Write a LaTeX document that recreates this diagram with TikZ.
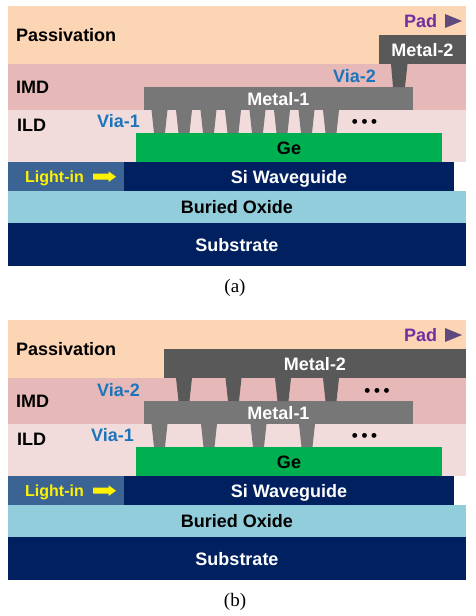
\documentclass[tikz,border=0pt]{standalone}
\usepackage{fontspec}
\setmainfont{Liberation Sans}
\newfontfamily\capfont{Liberation Serif}
\definecolor{passc}{HTML}{FCD5B5}
\definecolor{imdc}{HTML}{E6B9B8}
\definecolor{ildc}{HTML}{F2DCDB}
\definecolor{gec}{HTML}{00B050}
\definecolor{navyc}{HTML}{002060}
\definecolor{oxc}{HTML}{92CDDC}
\definecolor{mone}{HTML}{777777}
\definecolor{mtwo}{HTML}{595959}
\definecolor{lightc}{HTML}{3B6494}
\definecolor{viac}{HTML}{1C75BC}
\definecolor{padc}{HTML}{7030A0}
\definecolor{padarrow}{HTML}{604A7B}
\tikzset{
  x=1pt,y=-1pt,
  lay/.style={rectangle,anchor=north west,inner sep=0pt,outer sep=0pt,draw=none,
    font=\fontsize{18}{20}\bfseries,text height=13pt,text depth=0pt},
  lbl/.style={anchor=west,inner sep=0pt,font=\fontsize{18}{20}\bfseries,text height=13pt,text depth=0pt},
  vialbl/.style={lbl,text=viac},
  dotsrow/.style={inner sep=0pt,font=\fontsize{17}{18}\bfseries,text=black},
}
% #1 prefix, #2 width, #3 height, #4 colour, #5 x, #6 y, #7 text, #8 text colour
\newcommand\layer[8]{\node[lay,minimum width=#2pt,minimum height=#3pt,fill=#4,text=#8] (#1) at (#5,#6) {#7};}
% trapezoid via: #1 left x at the top, #2 top y, #3 colour
\newcommand\viashape[3]{\fill[#3] (#1,#2) -- (#1+16,#2) -- (#1+13.5,#2+23) -- (#1+2.5,#2+23) -- cycle;}
\newcommand\pstack[1]{%
  \layer{#1pass}{458}{58}{passc}{8}{6}{}{black}
  \layer{#1imd}{458}{46}{imdc}{8}{64}{}{black}
  \layer{#1ild}{458}{52}{ildc}{8}{110}{}{black}
  \layer{#1ge}{306}{29}{gec}{136}{133}{Ge}{black}
  \layer{#1light}{116}{29}{lightc}{8}{162}{}{white}
  \layer{#1si}{330}{29}{navyc}{124}{162}{Si Waveguide}{white}
  \layer{#1ox}{458}{32}{oxc}{8}{191}{Buried Oxide}{black}
  \layer{#1sub}{458}{43}{navyc}{8}{223}{Substrate}{white}
  \layer{#1mone}{269}{23}{mone}{144}{87}{Metal-1}{white}
  \node[lbl] (#1passl) at (16,35) {Passivation};
  \node[lbl] (#1imdl) at (16,87) {IMD};
  \node[lbl] (#1ildl) at (17,125) {ILD};
  \node[lbl,text=padc] (#1pad) at (404,21) {Pad};
  \fill[padarrow] (445,14) -- (462,21) -- (445,28) -- cycle;
  \node[lbl,text=yellow,font=\fontsize{16}{18}\bfseries] (#1lightl) at (25,176) {Light-in};
  \fill[yellow] (93,173.7) -- (108.5,173.7) -- (108.5,171.3) -- (116,176.7) -- (108.5,182.1) -- (108.5,179.7) -- (93,179.7) -- cycle;
}
\begin{document}
\begin{tikzpicture}
\useasboundingbox (0,0) rectangle (475,616);
% panel (a)
\begin{scope}
  \pstack{a}
  \layer{amtwo}{87}{29}{mtwo}{379}{35}{Metal-2}{white}
  \fill[mtwo] (391,64) -- (407.5,64) -- (405,87) -- (393,87) -- cycle;
  \foreach \vx in {151.5,176,200.5,225,249.5,274,298.5,323} {\viashape{\vx}{110}{mone}}
  \node[vialbl] (avone) at (97,121) {Via-1};
  \node[vialbl] (avtwo) at (333,76) {Via-2};
  \node[dotsrow] (adots) at (364.5,123) {•\hspace{3.7pt}•\hspace{3.7pt}•};
  \node[inner sep=0pt,text=black,font=\capfont\fontsize{19}{21}\selectfont] (acap) at (235,288) {(a)};
\end{scope}
% panel (b)
\begin{scope}[yshift=-314pt]
  \pstack{b}
  \layer{bmtwo}{302}{29}{mtwo}{164}{35}{Metal-2}{white}
  \foreach \vx in {176,225.5,275,323} {\viashape{\vx}{64}{mtwo}}
  \foreach \vx in {151.5,201,250.5,299} {\viashape{\vx}{110}{mone}}
  \node[vialbl] (bvone) at (91,121) {Via-1};
  \node[vialbl] (bvtwo) at (97,76) {Via-2};
  \node[dotsrow] (bdotsa) at (377,78) {•\hspace{3.7pt}•\hspace{3.7pt}•};
  \node[dotsrow] (bdotsb) at (364.5,123) {•\hspace{3.7pt}•\hspace{3.7pt}•};
  \node[inner sep=0pt,text=black,font=\capfont\fontsize{19}{21}\selectfont] (bcap) at (235,288) {(b)};
\end{scope}
\end{tikzpicture}
\end{document}
